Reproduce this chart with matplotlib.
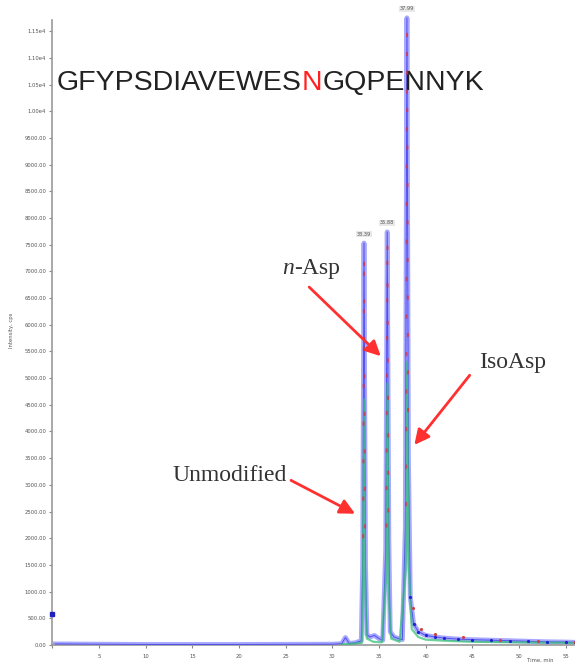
import matplotlib.pyplot as plt
from matplotlib.ticker import FuncFormatter, MultipleLocator

nan = float("nan")

# extracted ion chromatogram (time in min, intensity in cps)
blue_time = [0.3, 5.0, 10.0, 20.0, 30.0, 31.0, 31.4, 31.8, 32.4, 33.1, 33.25, 33.39, 33.55, 33.7, 34.0,
             34.5, 35.0, 35.4, 35.72, 35.88, 36.05, 36.2, 36.6, 37.1, 37.5, 37.82, 37.99, 38.15, 38.35,
             38.7, 39.2, 40.0, 41.0, 42.0, 43.5, 45.0, 47.0, 49.0, 51.0, 53.0, 55.0, 56.0]
blue_int = [20, 15, 10, 10, 15, 25, 140, 30, 40, 80, 1500, 7530, 1500, 200, 150,
            180, 120, 90, 1800, 7740, 2000, 250, 150, 120, 100, 2200, 11750, 3500, 900,
            400, 250, 180, 150, 130, 110, 100, 90, 80, 70, 60, 55, 50]

green_time = [31.0, 33.15, 33.28, 33.4, 33.52, 33.7, 34.4, 35.3, 35.76, 35.9, 36.04, 36.3, 37.2, 37.86, 38.0,
              38.15, 38.5, 39.2, 40.0, 42.0, 45.0, 50.0, 56.0]
green_int = [10, 40, 1200, 4600, 1000, 120, 60, 50, 1300, 4900, 900, 120, 60, 1400, 5300,
             1600, 300, 150, 100, 80, 60, 50, 40]

red_time = [33.3, 33.4, 33.5, nan, 35.8, 35.9, 36.0, nan, 37.9, 38.0, 38.12]
red_int = [2000, 7400, 1800, nan, 2200, 7650, 2300, nan, 2600, 11600, 3800]
red_tail_time = [38.6, 39.5, 41.0, 44.0, 48.0, 52.0, 56.0]
red_tail_int = [700, 300, 200, 150, 100, 80, 60]

start_time = 0.0
start_int = 580

peak_times = [33.39, 35.88, 37.99]
peak_labels = ["33.39", "35.88", "37.99"]
peak_heights = [7530, 7740, 11750]

sequence = ["GFYPSDIAVEWES", "N", "GQPENNYK"]
seq_colors = ["#222222", "#ff2020", "#222222"]

fig = plt.figure(figsize=(5.75, 6.64), dpi=100)
ax = fig.add_axes([52.4 / 575, 19 / 664, 1 - 52.4 / 575, 640 / 664])

ax.plot(blue_time, blue_int, color="#a8a8ff", lw=3.5, zorder=2)
ax.plot(blue_time, blue_int, color="#5050f0", lw=0.7, zorder=3)
ax.plot(green_time, green_int, color="#30c070", lw=1.6, alpha=0.7, zorder=4)
ax.plot(red_time, red_int, color="#e03030", lw=1.5, ls=(0, (2, 16)), alpha=0.7, zorder=5)
ax.plot(blue_time[28:], blue_int[28:], ".", color="#2020d0", ms=2.5, zorder=6)
ax.plot(red_tail_time, red_tail_int, ".", color="#d04040", ms=2.5, zorder=6)
ax.plot([start_time], [start_int], "s", color="#2020c0", ms=3.5, clip_on=False, zorder=7)

for t, lab, h in zip(peak_times, peak_labels, peak_heights):
    ax.text(t, h + 120, lab, fontsize=3.6, color="#555555", ha="center", va="bottom",
            bbox=dict(boxstyle="square,pad=0.15", fc="#e8e8e8", ec="none"))

ax.set_xlim(0, 56)
ax.set_ylim(0, 11990)
ax.xaxis.set_major_locator(MultipleLocator(5))
ax.yaxis.set_major_locator(MultipleLocator(500))


def yfmt(v, pos):
    if v >= 10000:
        return "%.2fe4" % (v / 10000)
    return "%.2f" % v


ax.yaxis.set_major_formatter(FuncFormatter(yfmt))
ax.xaxis.set_major_formatter(FuncFormatter(lambda v, p: "" if v == 0 else "%d" % v))
ax.tick_params(labelsize=3.8, labelcolor="#555555", length=2.5, width=0.8, color="#888888", pad=2)
ax.tick_params(axis="x", pad=4)
for s in ["top", "right"]:
    ax.spines[s].set_visible(False)
for s in ["left", "bottom"]:
    ax.spines[s].set_color("#999999")
    ax.spines[s].set_linewidth(1.2)
ax.spines["left"].set_bounds(0, 11700)

fig.text(12 / 575, 1 - 330 / 664, "Intensity, cps", rotation=90, fontsize=3.8, color="#555555",
         ha="center", va="center")
fig.text(540 / 575, 1 - 660 / 664, "Time, min", fontsize=3.8, color="#555555", ha="center", va="center")

# peptide sequence, the deamidation site in red
t = ax.text(0.5, 10395, sequence[0], fontsize=20.5, color=seq_colors[0],
            family="Liberation Sans", va="baseline")
for part, col in zip(sequence[1:], seq_colors[1:]):
    t = ax.annotate(part, xycoords=t, xy=(1, 0), va="bottom", fontsize=20.5, color=col,
                    family="Liberation Sans")

arrow = dict(arrowstyle="-|>,head_length=0.9,head_width=0.45", color="#ff3030", lw=2)
serif = "Liberation Serif"
nt = ax.text(24.6, 7061, "n", fontsize=17, family=serif, style="italic", color="#333333",
             ha="left", va="center")
ax.annotate("-Asp", xycoords=nt, xy=(1, 0), va="bottom", fontsize=17, family=serif, color="#333333")
ax.text(49.3, 5300, "IsoAsp", fontsize=17, family=serif, color="#333333", ha="center", va="center")
ax.text(18.95, 3184, "Unmodified", fontsize=17, family=serif, color="#333333", ha="center", va="center")
ax.annotate("", xy=(35.4, 5375), xytext=(27.3, 6742), arrowprops=arrow)
ax.annotate("", xy=(38.6, 3708), xytext=(44.9, 5094), arrowprops=arrow)
ax.annotate("", xy=(32.7, 2435), xytext=(25.3, 3109), arrowprops=arrow)

fig.savefig("out.png", dpi=100)
